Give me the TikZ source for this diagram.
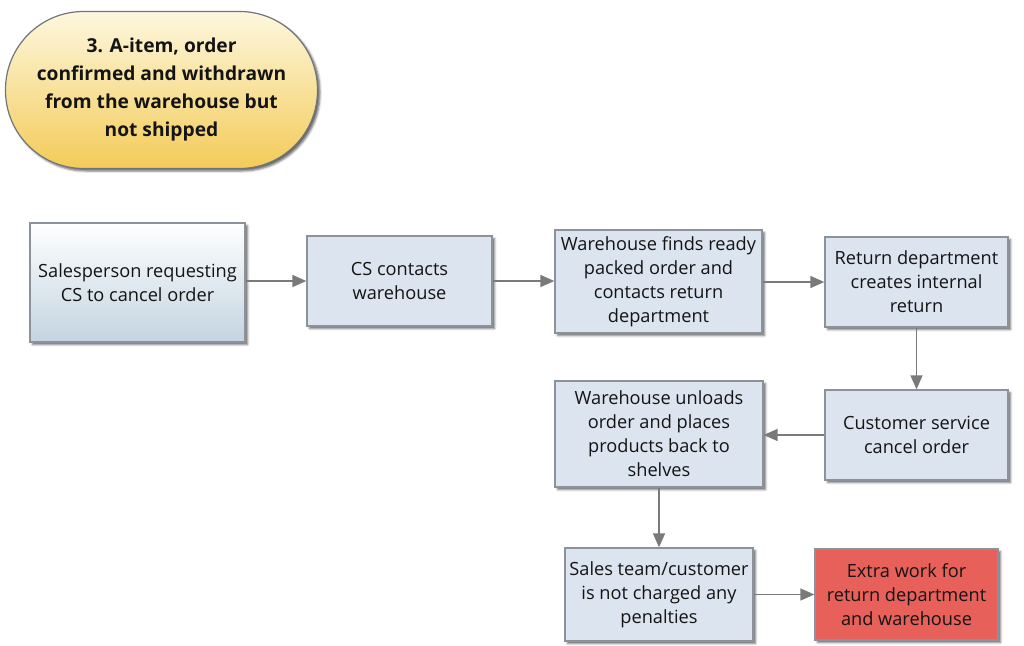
\documentclass[tikz,border=0pt]{standalone}
\usepackage{fontspec}
\setmainfont{Open Sans}
\usetikzlibrary{arrows.meta,shadows,shadows.blur}

\definecolor{boxfill}{HTML}{DCE4F0}
\definecolor{boxline}{HTML}{8C9299}
\definecolor{linkgray}{HTML}{7A7A7A}
\definecolor{alertred}{HTML}{E8605A}
\definecolor{titletop}{HTML}{FDF7DE}
\definecolor{titlebot}{HTML}{F3CB58}
\definecolor{startbot}{HTML}{C3D4E0}

\tikzset{
  x=1pt, y=-1pt,
  txt/.style={align=center, text=black!92, font=\fontsize{18.2}{24}\selectfont},
  shade box/.style={blur shadow={shadow xshift=2.5pt, shadow yshift=-2.5pt,
      shadow blur steps=4, shadow blur extra rounding=0.5pt, shadow opacity=60}},
  stepbox/.style={txt, shade box, draw=boxline, line width=1.3pt, fill=boxfill,
      inner sep=1pt},
  startbox/.style={stepbox, top color=white, bottom color=startbot},
  alertbox/.style={stepbox, fill=alertred},
  titlebox/.style={txt, font=\fontsize{19.2}{28}\bfseries\selectfont,
      shade box, draw=boxline!80!black, line width=1.2pt,
      rounded corners=78pt, top color=titletop, bottom color=titlebot},
  link/.style={draw=linkgray, line width=1.5pt,
      -{Triangle[length=14pt, width=12pt, fill=linkgray]}},
}

\begin{document}
\begin{tikzpicture}
\useasboundingbox (0,0) rectangle (1024,645);

% heading
\node[titlebox, minimum width=312pt, minimum height=157pt] (title) at (161.5,90)
  {3. A-item, order\\confirmed and withdrawn\\from the warehouse but\\not shipped};

% upper row
\node[startbox, minimum width=215pt, minimum height=119pt] (sales) at (137.5,282.5)
  {Salesperson requesting\\CS to cancel order};
\node[stepbox, minimum width=185pt, minimum height=90pt] (cs) at (399.5,281)
  {CS contacts\\warehouse};
\node[stepbox, minimum width=207pt, minimum height=103pt] (wfind) at (658.5,281.5)
  {Warehouse finds ready\\packed order and\\contacts return\\department};
\node[stepbox, minimum width=183pt, minimum height=90pt] (ret) at (916.5,282)
  {Return department\\creates internal\\return};

% middle row
\node[stepbox, minimum width=183pt, minimum height=90pt] (cancel) at (916.5,435)
  {Customer service\\cancel order};
\node[stepbox, minimum width=208pt, minimum height=106pt] (unload) at (659,434)
  {Warehouse unloads\\order and places\\products back to\\shelves};

% lower row
\node[stepbox, minimum width=188pt, minimum height=93pt] (nocharge) at (659,594.5)
  {Sales team/customer\\is not charged any\\penalties};
\node[alertbox, minimum width=183pt, minimum height=91pt] (extra) at (906.5,594.5)
  {Extra work for\\return department\\and warehouse};

% connectors
\draw[link] (sales.east |- cs) -- (cs.west);
\draw[link] (cs.east) -- (cs.east -| wfind.west);
\draw[link] (wfind.east |- ret) -- (ret.west);
\draw[link] (ret.south) -- (cancel.north);
\draw[link] (cancel.west) -- (cancel.west -| unload.east);
\draw[link] (unload.south) -- (nocharge.north);
\draw[link] (nocharge.east) -- (extra.west);
\end{tikzpicture}
\end{document}
